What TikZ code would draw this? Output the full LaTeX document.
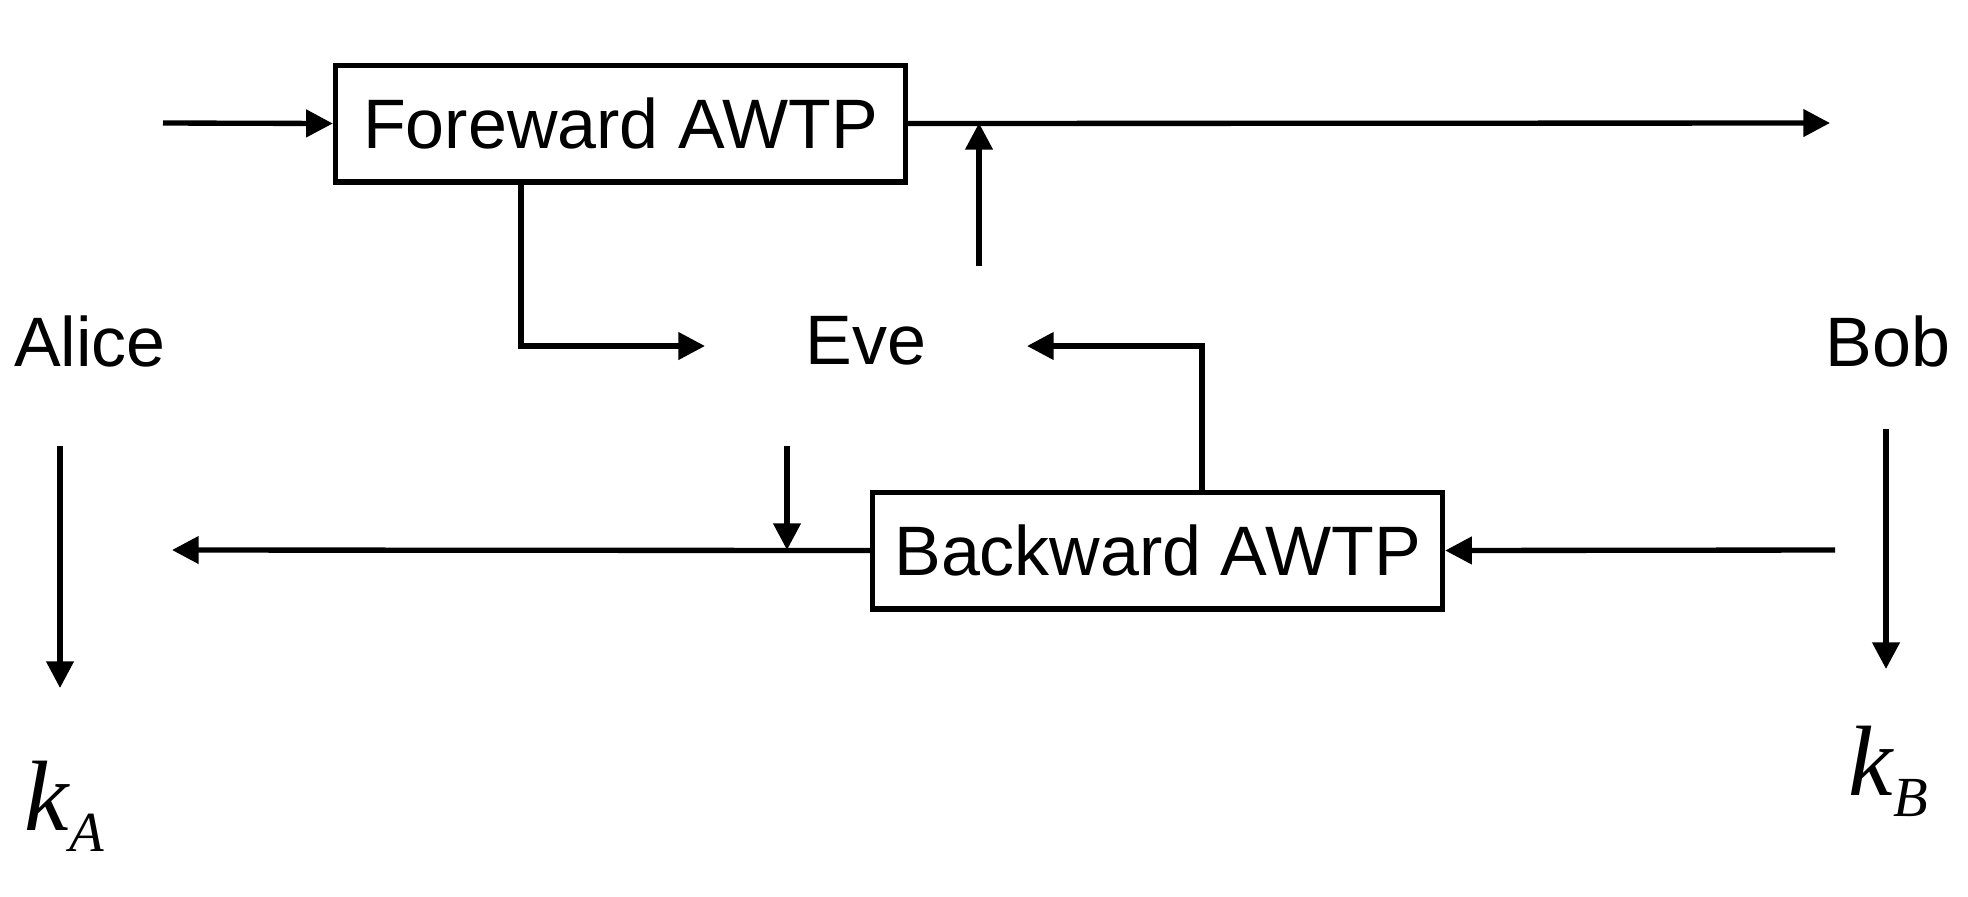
\documentclass[tikz,border=0pt]{standalone}
\usepackage{fontspec}
\setmainfont{Liberation Sans}
\newfontfamily\serifit{Liberation Serif}
\usetikzlibrary{arrows.meta}
\newcommand{\keyname}[1]{{\serifit\itshape\fontsize{30}{34}\selectfont k\raisebox{-6.5pt}{\fontsize{17}{20}\selectfont #1}}}
\begin{document}
\begin{tikzpicture}[x=0.3pt,y=-0.3pt,
  line width=1.6pt,
  arr/.style={-{Triangle[length=8pt,width=8pt]}},
  lbl/.style={font=\fontsize{21}{25}\selectfont, inner sep=0pt},
  box/.style={draw, line width=1.6pt, minimum width=171pt, minimum height=35pt, inner sep=0pt, font=\fontsize{21}{25}\selectfont},
  keylbl/.style={inner sep=0pt, anchor=base west},
]
\useasboundingbox (0,0) rectangle (1968,896);
\node[box] (fwd) at (620.5,123.5) {Foreward AWTP};
\node[box] (bwd) at (1157.5,550.5) {Backward AWTP};
\node[lbl] (alice) at (90,341) {Alice};
\node[lbl] (eve) at (866,341) {Eve};
\node[lbl] (bob) at (1888,341) {Bob};
\node[keylbl] (kA) at (22,830) {\keyname{A}};
\node[keylbl] (kB) at (1846,795) {\keyname{B}};
% free ends
\coordinate (fin) at (163,123);
\coordinate (fout) at (1830,123);
\coordinate (inj1s) at (979,266);
\coordinate (inj1e) at (979,123);
\coordinate (fs) at (521,0);
\coordinate (eveL) at (705,346);
\coordinate (bn) at (1202,0);
\coordinate (eveR) at (1027,346);
\coordinate (bin) at (1835,550);
\coordinate (bout) at (172,550);
\coordinate (inj2s) at (787,446);
\coordinate (inj2e) at (787,550);
\coordinate (aS) at (60,446);
\coordinate (aE) at (60,688);
\coordinate (bS) at (1886,429);
\coordinate (bE) at (1886,669);
% connectors
\draw[arr] (fin) -- (fwd.west);
\draw[arr] (fwd.east) -- (fout);
\draw[arr] (inj1s) -- (inj1e);
\draw[arr] (fwd.south -| fs) |- (eveL);
\draw[arr] (bwd.north -| bn) |- (eveR);
\draw[arr] (bin) -- (bwd.east);
\draw[arr] (bwd.west) -- (bout);
\draw[arr] (inj2s) -- (inj2e);
\draw[arr] (aS) -- (aE);
\draw[arr] (bS) -- (bE);
\end{tikzpicture}
\end{document}
